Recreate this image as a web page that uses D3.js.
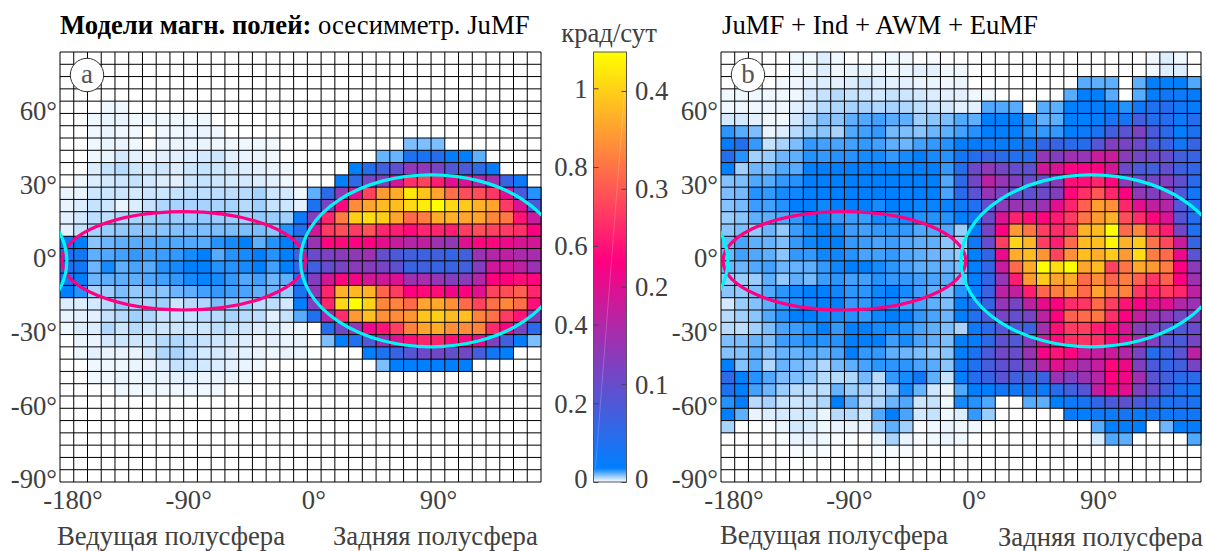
<!DOCTYPE html>
<html><head><meta charset="utf-8">
<script src="https://cdn.jsdelivr.net/npm/d3@7"></script>
<style>
html,body{margin:0;padding:0;background:#fff}
svg{display:block}
text{font-family:"Liberation Serif",serif}
</style></head><body>
<svg id="c" width="1206" height="551"></svg>
<script>
// Values: thousandths of krad/day; rows from +85° down to -90°, columns from -180° to 170°, 10°×5° cells.
const fieldA = [
[0,0,0,0,0,0,0,0,0,0,0,0,0,0,0,0,0,0,0,0,0,0,0,0,0,0,0,0,0,0,0,0,0,0,0],
[0,0,0,0,0,0,0,0,0,0,0,0,0,0,0,0,0,0,0,0,0,0,0,0,0,0,0,0,0,0,0,0,0,0,0],
[0,0,0,0,0,0,0,0,0,0,0,0,0,0,0,0,0,0,0,0,0,0,0,0,0,0,0,0,0,0,0,0,0,0,0],
[0,0,0,0,0,0,0,0,0,0,0,0,0,0,0,0,0,0,0,0,0,0,0,0,0,0,0,0,0,0,0,0,0,0,0],
[0,0,0,2,2,0,0,0,0,0,0,0,0,0,0,0,0,0,0,0,0,0,0,0,0,0,0,0,0,0,0,0,0,0,0],
[0,0,2,3,3,2,2,2,2,2,2,0,0,0,0,0,0,0,0,0,0,0,0,0,0,0,0,0,0,0,0,0,0,0,0],
[0,0,2,3,2,2,0,2,2,3,3,2,0,0,0,0,0,0,0,0,0,0,0,0,0,0,0,0,0,0,0,0,0,0,0],
[0,0,2,3,3,2,0,3,3,3,3,2,2,2,2,2,0,0,0,0,0,0,0,0,0,18,18,18,0,0,0,0,0,0,0],
[0,0,2,3,6,4,3,4,4,5,6,7,4,3,3,2,0,0,0,0,0,0,0,21,21,90,85,115,50,35,22,0,0,0,0],
[0,0,5,8,10,7,6,7,5,7,8,7,6,5,4,3,2,0,0,0,0,35,110,170,230,330,330,280,200,190,130,50,0,0,0],
[0,2,5,6,7,8,6,5,4,7,8,7,6,6,5,4,2,0,0,0,40,130,270,300,470,660,700,620,500,480,400,370,150,60,0],
[3,3,7,7,7,6,7,7,8,9,9,9,9,10,12,7,6,2,22,130,330,500,700,880,920,1040,970,900,790,720,720,670,500,190,30],
[3,5,8,7,3,5,8,11,12,12,12,12,12,10,13,8,7,4,90,280,570,850,900,950,960,1010,1050,1090,1010,980,930,900,680,480,190],
[4,6,9,9,11,12,13,14,14,14,15,14,14,13,15,14,13,60,300,640,820,990,1020,990,900,780,820,920,930,900,900,840,810,600,440],
[4,8,12,14,15,16,16,16,17,18,18,18,18,18,18,16,30,100,460,680,720,680,730,640,620,580,640,640,620,680,720,700,680,660,560],
[50,35,16,20,22,23,23,24,24,24,23,30,32,35,22,30,35,130,350,570,580,560,560,510,440,400,430,360,340,500,570,570,520,480,470],
[110,75,22,24,26,28,26,27,28,32,35,23,30,32,35,30,35,150,260,290,320,330,360,240,190,170,160,170,140,170,350,400,420,390,380],
[110,70,20,32,22,25,23,30,32,35,35,30,30,32,35,26,35,140,170,240,280,320,310,280,230,150,170,150,150,170,300,460,470,420,350],
[60,45,20,22,22,22,24,26,28,32,34,32,28,24,26,20,22,90,300,470,570,530,470,460,490,360,380,340,300,320,400,560,560,590,570],
[35,30,12,14,18,15,16,16,20,22,26,28,26,25,22,20,14,90,330,640,930,940,930,770,680,560,580,590,530,560,500,700,720,760,640],
[5,5,6,10,15,12,12,13,7,10,11,18,15,14,9,9,6,40,300,640,1010,1090,1000,840,830,780,900,910,860,780,700,790,840,790,590],
[3,4,4,8,10,13,11,8,8,8,10,10,12,10,9,4,8,23,100,400,650,880,960,860,850,870,970,990,950,960,830,800,680,600,300],
[2,5,5,11,7,10,8,7,7,7,7,9,8,7,5,5,3,2,0,110,270,340,520,600,690,830,900,920,860,850,830,650,550,280,120],
[0,3,3,6,7,7,7,10,11,9,8,7,6,5,3,4,3,3,0,18,35,100,200,350,480,590,640,640,590,570,500,300,170,40,18],
[0,2,4,3,3,3,6,11,12,9,6,6,5,4,3,2,3,2,0,0,0,0,35,90,150,210,260,270,240,270,180,70,35,0,0],
[0,0,2,2,2,3,3,5,8,8,6,5,4,3,2,0,0,0,0,0,0,0,0,18,35,40,35,35,35,35,0,0,0,0,0],
[0,0,2,2,3,2,3,3,4,4,3,3,3,2,0,0,0,0,0,0,0,0,0,0,0,0,0,0,0,0,0,0,0,0,0],
[0,0,0,0,2,2,2,2,2,2,2,2,0,0,0,0,0,0,0,0,0,0,0,0,0,0,0,0,0,0,0,0,0,0,0],
[0,0,0,0,0,0,0,0,0,0,0,0,0,0,0,0,0,0,0,0,0,0,0,0,0,0,0,0,0,0,0,0,0,0,0],
[0,0,0,0,0,0,0,0,0,0,0,0,0,0,0,0,0,0,0,0,0,0,0,0,0,0,0,0,0,0,0,0,0,0,0],
[0,0,0,0,0,0,0,0,0,0,0,0,0,0,0,0,0,0,0,0,0,0,0,0,0,0,0,0,0,0,0,0,0,0,0],
[0,0,0,0,0,0,0,0,0,0,0,0,0,0,0,0,0,0,0,0,0,0,0,0,0,0,0,0,0,0,0,0,0,0,0],
[0,0,0,0,0,0,0,0,0,0,0,0,0,0,0,0,0,0,0,0,0,0,0,0,0,0,0,0,0,0,0,0,0,0,0],
[0,0,0,0,0,0,0,0,0,0,0,0,0,0,0,0,0,0,0,0,0,0,0,0,0,0,0,0,0,0,0,0,0,0,0],
[0,0,0,0,0,0,0,0,0,0,0,0,0,0,0,0,0,0,0,0,0,0,0,0,0,0,0,0,0,0,0,0,0,0,0]
];
const fieldB = [
[0,0,0,0,0,2,2,5,2,0,0,1,2,2,0,1,0,0,0,0,0,0,0,0,0,0,0,0,0,0,0,2,5,2,0],
[0,0,0,0,0,2,2,5,2,3,3,3,2,3,4,4,2,2,0,0,0,0,0,0,0,0,0,0,0,0,0,2,5,5,0],
[0,0,0,0,2,2,4,5,4,5,7,5,4,4,3,3,2,3,0,0,0,0,0,0,0,0,23,22,22,0,22,35,40,35,24],
[2,2,2,2,2,2,6,8,10,8,7,6,8,7,6,5,4,4,2,2,0,0,0,0,0,23,35,35,23,0,23,45,75,60,50],
[2,2,2,2,2,4,6,10,11,12,12,11,12,11,9,7,6,4,4,24,24,23,0,23,22,35,45,45,35,30,65,100,110,70,50],
[6,6,4,2,2,6,11,18,16,22,24,26,23,22,13,16,18,24,22,35,40,35,30,22,22,35,35,45,80,80,170,110,110,60,110],
[29,23,18,3,5,10,14,16,12,24,26,28,19,18,16,20,22,26,30,35,40,35,30,28,28,40,60,90,170,220,290,190,130,35,95],
[50,100,28,8,12,18,28,26,25,26,28,26,22,20,26,28,30,40,50,60,50,55,75,140,150,120,110,210,300,280,260,170,150,70,150],
[110,30,13,14,20,22,30,28,30,30,32,32,28,32,35,32,30,70,110,150,120,100,110,340,300,360,340,450,450,320,270,260,240,170,150],
[35,13,20,18,24,23,35,35,35,35,35,35,35,35,35,35,28,110,260,330,270,240,230,460,480,560,540,550,470,260,190,170,240,160,140],
[17,18,24,23,28,30,35,35,35,35,35,35,35,35,35,35,24,130,270,420,340,300,250,250,330,590,590,640,570,330,260,270,300,230,120],
[18,19,30,28,32,33,35,35,35,35,35,35,35,35,35,35,25,120,220,340,280,230,230,260,300,570,660,740,640,550,330,300,340,200,70],
[17,19,27,26,30,35,35,33,35,35,35,32,35,35,34,34,34,60,100,230,320,350,320,350,500,630,760,890,860,640,500,430,400,190,100],
[14,16,22,22,24,28,35,33,28,27,27,32,31,32,30,30,30,35,70,260,480,630,590,570,610,680,800,880,930,720,650,570,480,210,110],
[16,18,15,20,15,27,32,35,33,27,26,28,29,28,24,24,24,14,50,280,560,880,810,690,650,690,930,950,1090,780,840,700,620,270,100],
[20,25,22,21,18,28,33,35,35,28,27,25,27,24,22,22,16,14,70,250,690,1000,940,690,620,780,950,960,1070,930,980,800,710,450,150],
[20,26,24,22,16,28,28,33,33,30,25,26,28,24,22,20,17,14,35,140,520,920,950,870,700,860,960,920,980,880,1020,820,780,520,220],
[20,20,24,26,20,21,22,28,33,35,35,32,29,25,22,22,20,18,35,140,440,780,920,1090,1020,1090,900,950,700,800,910,880,820,560,320],
[14,14,14,22,15,22,19,27,29,26,26,30,28,28,26,25,23,18,40,140,340,620,880,980,900,920,780,850,770,820,760,670,760,550,360],
[16,15,18,24,29,33,35,35,33,29,29,33,35,32,27,22,18,30,35,160,420,430,620,770,820,880,780,900,820,830,670,620,680,640,420],
[6,14,17,22,28,30,33,35,35,28,28,33,32,25,25,22,18,36,100,150,340,280,420,510,560,650,670,780,690,600,550,490,500,400,350],
[10,13,16,24,30,35,35,33,32,30,28,33,35,35,28,25,20,36,100,190,280,240,280,420,560,760,780,810,660,550,440,350,330,270,300],
[10,9,13,18,25,27,30,35,28,35,35,32,32,30,25,22,18,12,60,120,210,200,160,370,590,680,690,620,580,470,310,290,240,200,250],
[18,18,21,18,27,28,31,30,30,35,35,35,27,32,25,22,18,35,45,130,230,200,300,450,590,660,670,660,590,500,370,300,220,190,280],
[17,17,22,16,21,21,23,22,25,35,28,28,22,20,18,15,16,40,90,190,270,250,350,540,600,570,450,440,450,400,280,110,150,220,420],
[35,17,23,11,21,19,16,11,19,22,25,29,29,29,25,23,16,60,100,180,230,230,300,400,500,430,370,440,570,530,300,190,140,170,280],
[130,35,30,24,18,18,15,10,10,11,19,10,28,32,70,22,8,45,110,150,220,170,170,150,350,290,350,400,560,530,370,220,170,120,130],
[90,35,26,20,14,10,9,9,21,14,12,10,15,32,21,7,3,24,35,40,80,70,75,60,120,170,210,430,520,500,300,250,160,90,70],
[30,45,10,12,8,7,8,11,35,22,10,11,20,24,7,8,2,32,30,24,0,0,23,22,35,60,85,140,190,230,190,140,90,100,90],
[35,22,3,5,6,6,7,3,10,10,6,24,40,25,6,8,2,5,28,14,0,0,0,0,0,50,35,60,60,80,50,70,60,70,70],
[12,0,0,1,3,6,5,2,3,3,3,13,22,13,1,2,3,2,2,0,0,0,0,0,0,0,0,23,35,45,35,0,20,40,50],
[0,0,0,0,1,3,3,2,1,1,0,3,12,3,1,2,3,2,0,0,0,0,0,0,0,0,0,5,24,22,0,0,0,0,24],
[0,0,0,0,0,1,1,1,0,0,0,1,1,1,0,0,0,0,0,0,0,0,0,0,0,0,0,0,0,0,0,0,0,0,0],
[0,0,0,0,0,0,0,0,0,0,0,0,0,0,0,0,0,0,0,0,0,0,0,0,0,0,0,0,0,0,0,0,0,0,0],
[0,0,0,0,0,0,0,0,0,0,0,0,0,0,0,0,0,0,0,0,0,0,0,0,0,0,0,0,0,0,0,0,0,0,0]
];
const lonTicks = [-180,-90,0,90];
const latTicks = [60,30,0,-30,-60,-90];
const barTicksLeft = [0,0.2,0.4,0.6,0.8,1];
const barTicksRight = [0,0.1,0.2,0.3,0.4];
const colorStops = [0,35,560,1090];
const colorRange = ["#ffffff","#0080ff","#ff0080","#ffff00"];
// ellipses: centre lon, semi-axes in degrees
const magentaOval = {lon:-90, rx:88.5, ry:20};
const cyanOval = [{lon:90, rx:95, ry:35},{lon:-270, rx:95, ry:35}];
const hemiLabels = ["Ведущая полусфера","Задняя полусфера"];

const svg = d3.select("#c");
const ink = "#404040";
const fs = 26.7;
const lonLabelShift = new Map([[-180,12.5],[-90,4.5],[0,6],[90,7]]);
const color = d3.scaleLinear().domain(colorStops).range(colorRange).clamp(true);
const yTop = 52, yBottom = 482;

function panel(id, field, x0, x1, badge, xLabels, yLabels){
  const lon = d3.scaleLinear().domain([-180,170]).range([x0,x1]);
  const lat = d3.scaleLinear().domain([-90,85]).range([yBottom,yTop]);
  const g = svg.append("g");
  const cells = field.flatMap((row,r)=>row.map((v,c)=>({v,lon:-180+10*c,lat:85-5*r})));
  g.append("g").attr("shape-rendering","crispEdges").selectAll("rect").data(cells).join("rect")
    .attr("x",d=>lon(d.lon)).attr("y",d=>lat(d.lat))
    .attr("width",d=>lon(d.lon+10)-lon(d.lon)+0.5).attr("height",d=>lat(d.lat-5)-lat(d.lat)+0.5)
    .attr("fill",d=>color(d.v));
  const lonGrid = d3.range(-180,171,10), latGrid = d3.range(-90,86,5);
  g.append("g").selectAll("line").data(lonGrid).join("line")
    .attr("x1",d=>lon(d)).attr("x2",d=>lon(d)).attr("y1",yTop).attr("y2",yBottom)
    .attr("stroke","#000").attr("stroke-width",1);
  g.append("g").selectAll("line").data(latGrid).join("line")
    .attr("x1",x0).attr("x2",x1).attr("y1",d=>lat(d)).attr("y2",d=>lat(d))
    .attr("stroke","#000").attr("stroke-width",1);
  svg.append("clipPath").attr("id","clip"+id).append("rect")
    .attr("x",x0).attr("y",yTop).attr("width",x1-x0).attr("height",yBottom-yTop);
  const ov = g.append("g").attr("clip-path",`url(#clip${id})`).attr("fill","none").attr("stroke-width",3.2);
  ov.append("ellipse").attr("stroke","#ff0080")
    .attr("cx",lon(magentaOval.lon)).attr("cy",lat(0))
    .attr("rx",lon(magentaOval.rx)-lon(0)).attr("ry",lat(0)-lat(magentaOval.ry));
  ov.selectAll("ellipse.c").data(cyanOval).join("ellipse").attr("class","c").attr("stroke","#00f5f5")
    .attr("cx",d=>lon(d.lon)).attr("cy",lat(0))
    .attr("rx",d=>lon(d.rx)-lon(0)).attr("ry",d=>lat(0)-lat(d.ry));
  // axes
  const ya = g.append("g").attr("transform",`translate(${x0},0)`)
    .call(d3.axisLeft(lat).tickValues(latTicks).tickSize(0).tickPadding(3).tickFormat(d=>d+"°"));
  ya.select(".domain").remove();
  ya.selectAll("text").attr("font-size",fs).attr("fill",ink).attr("dy","0.22em");
  const xa = g.append("g").attr("transform",`translate(0,${yBottom})`)
    .call(d3.axisBottom(lon).tickValues(lonTicks).tickSize(0).tickPadding(3).tickFormat(d=>d+"°"));
  xa.select(".domain").remove();
  xa.selectAll("text").attr("font-size",fs).attr("fill",ink).attr("dy","0.9em").attr("dx",d=>lonLabelShift.get(d));
  // badge
  g.append("circle").attr("cx",x0+27).attr("cy",75).attr("r",16.7).attr("fill","#fff").attr("stroke","#333").attr("stroke-width",1);
  g.append("text").attr("x",x0+27).attr("y",83).attr("text-anchor","middle").attr("font-size",27).attr("fill","#555").text(badge);
  // hemisphere labels
  g.append("text").attr("x",xLabels[0]).attr("y",yLabels[0]).attr("font-size",fs).attr("fill",ink).text(hemiLabels[0]);
  g.append("text").attr("x",xLabels[1]).attr("y",yLabels[1]).attr("font-size",fs).attr("fill",ink).text(hemiLabels[1]);
}
panel("a",fieldA,60,541,"a",[57,333],[545,545]);
panel("b",fieldB,721,1201,"b",[720,998],[544,546]);

// titles
const t1 = svg.append("text").attr("x",60).attr("y",34).attr("font-size",fs).attr("fill","#000");
t1.append("tspan").attr("font-weight","bold").text("Модели магн. полей:");
t1.append("tspan").text(" осесимметр. JuMF");
svg.append("text").attr("x",722).attr("y",34).attr("font-size",fs).attr("fill","#000").text("JuMF + Ind + AWM + EuMF");

// colour bar
const barL = 593.5, barR = 626.5;
const barY = d3.scaleLinear().domain([0,1.0922]).range([yBottom,yTop]);
const barYR = d3.scaleLinear().domain([0,0.4]).range([yBottom,91]);
const grad = svg.append("defs").append("linearGradient").attr("id","bar").attr("x1",0).attr("x2",0).attr("y1",1).attr("y2",0);
grad.selectAll("stop").data(colorStops).join("stop")
  .attr("offset",d=>d/colorStops[3]).attr("stop-color",d=>color(d));
svg.append("rect").attr("x",barL).attr("y",yTop).attr("width",barR-barL).attr("height",yBottom-yTop)
  .attr("fill","url(#bar)");
svg.append("line").attr("x1",barL+2).attr("y1",yBottom-14).attr("x2",barR-2).attr("y2",yTop+40)
  .attr("stroke","#fff").attr("stroke-opacity",0.2).attr("stroke-width",1);
svg.append("rect").attr("x",barL).attr("y",yTop).attr("width",barR-barL).attr("height",yBottom-yTop)
  .attr("fill","none").attr("stroke","#555").attr("stroke-width",1);
const al = svg.append("g").attr("transform",`translate(${barL},0)`)
  .call(d3.axisLeft(barY).tickValues(barTicksLeft).tickSize(-5).tickPadding(6).tickFormat(d3.format("")));
al.select(".domain").remove();
al.selectAll("line").attr("stroke","#444");
al.selectAll("text").attr("font-size",fs).attr("fill",ink).attr("dy",d=>d===0?"0.22em":"0.33em");
const ar = svg.append("g").attr("transform",`translate(${barR},0)`)
  .call(d3.axisRight(barYR).tickValues(barTicksRight).tickSize(-5).tickPadding(8.5).tickFormat(d3.format("")));
ar.select(".domain").remove();
ar.selectAll("line").attr("stroke","#444");
ar.selectAll("text").attr("font-size",fs).attr("fill",ink).attr("dy",d=>d===0?"0.22em":"0.33em");
svg.append("text").attr("x",609).attr("y",41.5).attr("text-anchor","middle").attr("font-size",fs).attr("fill",ink).text("крад/сут");
</script>
</body></html>
